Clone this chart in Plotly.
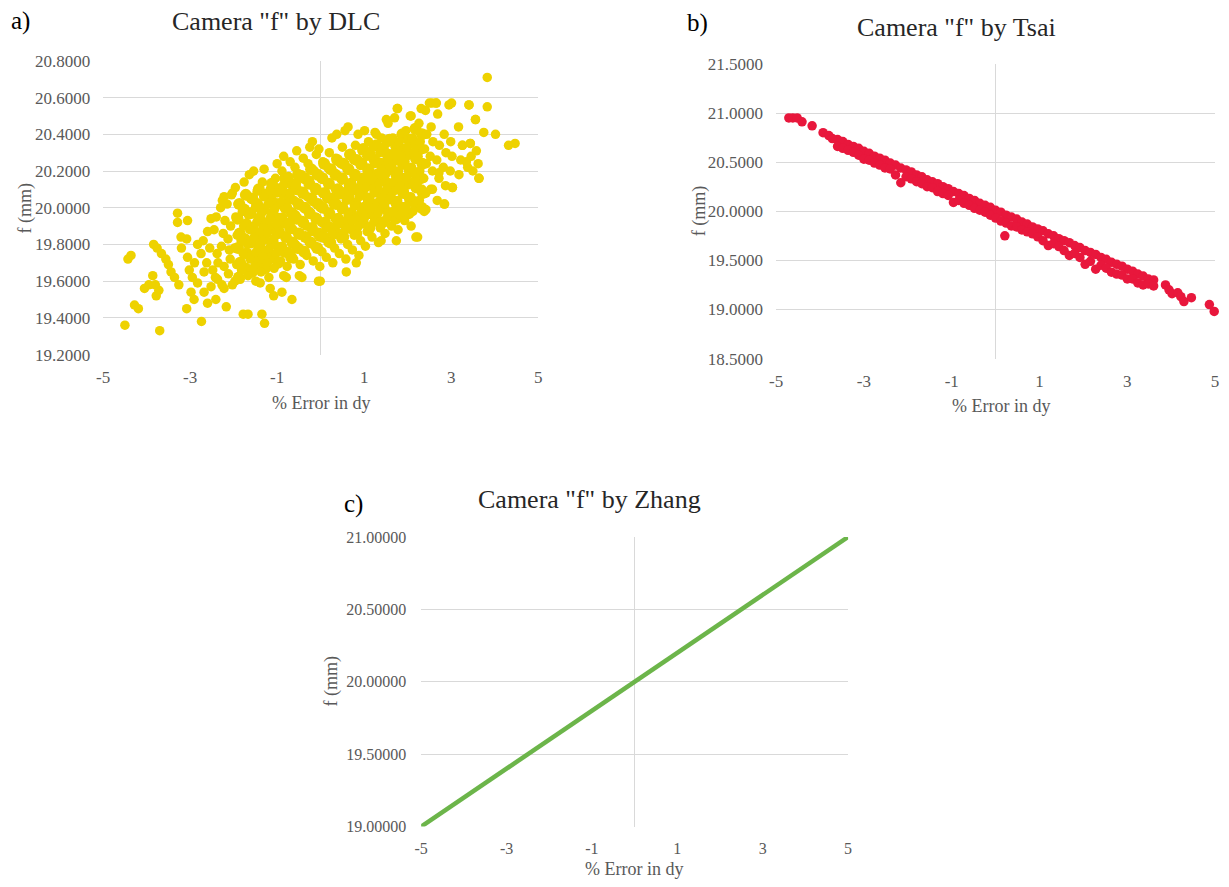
import plotly.graph_objects as go

# ---------------- data ----------------
x_ticks = [-5, -3, -1, 1, 3, 5]

# a) DLC scatter (read from picture)
dlc_x = [
    # left outliers
    -4.50, -3.70, -4.43, -4.36, -4.28, -4.19, -4.05, -3.95, -3.86, -3.78,
    -3.84, -3.76, -3.66, -3.56, -3.50, -3.44, -3.36, -3.26, -3.80, -3.72,
    -3.29, -3.29, -3.06, -3.21, -3.08, -3.20, -3.06, -3.02, -2.98, -3.08,
    -2.91, -2.74, -2.83, -2.68, -2.68, -2.60, -2.41, -2.52, -2.37, -2.22,
    -2.17, -2.03, -1.78, -1.67, -1.35, -1.29, -1.16, -1.08, -0.89, -0.66,
    -0.85, -0.43, -0.05, -1.39, -1.85, -2.83, -2.60, -2.52, -2.30, -2.22,
    -2.03, -2.15, -2.90, -2.75, -2.95, -2.62, -2.55, -2.48, -2.70,
    # core columns
    -2.42, -2.38, -2.45, -2.36, -2.40,
    -2.27, -2.22, -2.28, -2.24, -2.20, -2.26,
    -2.12, -2.08, -2.13, -2.07, -2.10, -2.05,
    -1.97, -1.93, -1.98, -1.92, -1.95, -1.90, -1.96,
    -1.82, -1.78, -1.83, -1.77, -1.80, -1.76, -1.84,
    -1.67, -1.62, -1.68, -1.63, -1.66, -1.61, -1.64,
    -1.52, -1.48, -1.53, -1.47, -1.50, -1.46, -1.54, -1.49,
    -1.37, -1.33, -1.38, -1.32, -1.36, -1.31, -1.34, -1.30,
    -1.22, -1.18, -1.23, -1.17, -1.21, -1.16, -1.19,
    -1.07, -1.03, -1.08, -1.02, -1.06, -1.01, -1.04, -1.00,
    -0.92, -0.88, -0.93, -0.87, -0.91, -0.86, -0.89, -0.85,
    -0.77, -0.73, -0.78, -0.72, -0.76, -0.71, -0.74, -0.70, -0.79,
    -0.62, -0.58, -0.63, -0.57, -0.61, -0.56, -0.59, -0.55,
    -0.47, -0.43, -0.48, -0.42, -0.46, -0.41, -0.44, -0.40, -0.49,
    -0.32, -0.28, -0.33, -0.27, -0.31, -0.26, -0.29, -0.25,
    -0.17, -0.13, -0.18, -0.12, -0.16, -0.11, -0.14, -0.10, -0.19,
    -0.02, 0.03, -0.03, 0.02, -0.01, 0.04, 0.01, 0.05, -0.04,
    0.13, 0.17, 0.12, 0.18, 0.14, 0.19, 0.16, 0.20,
    0.28, 0.32, 0.27, 0.33, 0.29, 0.34, 0.31, 0.35, 0.26,
    0.43, 0.47, 0.42, 0.48, 0.44, 0.49, 0.46, 0.50,
    0.58, 0.62, 0.57, 0.63, 0.59, 0.64, 0.61, 0.65, 0.56,
    0.73, 0.77, 0.72, 0.78, 0.74, 0.79, 0.76, 0.80,
    0.88, 0.92, 0.87, 0.93, 0.89, 0.94, 0.91, 0.95, 0.86,
    1.03, 1.07, 1.02, 1.08, 1.04, 1.09, 1.06, 1.10,
    1.18, 1.22, 1.17, 1.23, 1.19, 1.24, 1.21, 1.25,
    1.33, 1.37, 1.32, 1.38, 1.34, 1.39, 1.36, 1.40,
    1.48, 1.52, 1.47, 1.53, 1.49, 1.54, 1.51, 1.55,
    1.63, 1.67, 1.62, 1.68, 1.64, 1.69, 1.66, 1.70,
    1.78, 1.82, 1.77, 1.83, 1.79, 1.84, 1.81, 1.76,
    1.93, 1.97, 1.92, 1.98, 1.94, 1.99, 1.96,
    2.08, 2.12, 2.07, 2.13, 2.09, 2.14, 2.11, 2.06,
    2.23, 2.27, 2.22, 2.28, 2.24, 2.29, 2.26,
    2.38, 2.42, 2.37, 2.43, 2.39, 2.44, 2.41,
    2.53, 2.57, 2.52, 2.58, 2.54, 2.56,
    2.68, 2.72, 2.67, 2.73, 2.69, 2.66,
    2.85, 2.87, 2.82, 2.88, 2.84,
    3.03, 2.98, 3.02, 2.99, 3.01,
    3.18, 3.22, 3.26, 3.17,
    3.41, 3.44, 3.38, 3.46,
    3.56, 3.64, 3.62, 3.58,
    # right outliers
    3.83, 3.83, 3.75, 4.02, 4.32, 4.47, 3.56, 3.64, 3.41, 2.95,
    2.50, 2.65, 2.31, 1.77, 1.51, 2.08, 0.63, 1.01, 1.28, 0.37,
    2.84, 2.42, 2.19, 1.74, 1.39, 0.82, 0.59, -0.01, 3.03, 3.26,
    3.44, 2.57, 2.33, 2.72, 3.50, 3.35,
]
dlc_y = [
    # left outliers
    19.36, 19.33, 19.72, 19.74, 19.47, 19.45, 19.56, 19.58, 19.63, 19.52,
    19.80, 19.78, 19.75, 19.72, 19.69, 19.65, 19.62, 19.58, 19.58, 19.55,
    19.97, 19.92, 19.93, 19.84, 19.83, 19.78, 19.73, 19.66, 19.54, 19.45,
    19.50, 19.38, 19.59, 19.65, 19.54, 19.48, 19.50, 19.57, 19.61, 19.56,
    19.46, 19.58, 19.42, 19.42, 19.42, 19.37, 19.56, 19.52, 19.54, 19.50,
    19.63, 19.62, 19.60, 19.59, 19.61, 19.80, 19.87, 19.94, 20.00, 20.06,
    20.08, 20.02, 19.70, 19.75, 19.62, 19.70, 19.78, 19.66, 19.82,
    # core columns
    19.62, 19.75, 19.88, 19.70, 19.95,
    19.58, 19.68, 19.79, 19.86, 19.93, 20.04,
    19.64, 19.72, 19.83, 19.90, 19.77, 20.07,
    19.60, 19.69, 19.78, 19.85, 19.95, 20.02, 20.11,
    19.66, 19.75, 19.82, 19.90, 19.98, 20.14, 19.70,
    19.63, 19.72, 19.80, 19.88, 19.96, 20.05, 20.18,
    19.68, 19.76, 19.84, 19.92, 20.00, 20.09, 20.20, 19.60,
    19.65, 19.73, 19.81, 19.89, 19.97, 20.06, 20.14, 20.21,
    19.70, 19.78, 19.86, 19.94, 20.02, 20.10, 19.62,
    19.67, 19.75, 19.83, 19.91, 19.99, 20.08, 20.16, 20.24,
    19.71, 19.79, 19.87, 19.95, 20.03, 20.12, 20.20, 20.28,
    19.68, 19.76, 19.84, 19.92, 20.00, 20.08, 20.17, 20.25, 19.62,
    19.72, 19.80, 19.88, 19.96, 20.04, 20.13, 20.22, 20.31,
    19.69, 19.77, 19.85, 19.93, 20.01, 20.09, 20.18, 20.27, 19.63,
    19.74, 19.82, 19.90, 19.98, 20.06, 20.15, 20.24, 20.33,
    19.71, 19.79, 19.87, 19.95, 20.03, 20.11, 20.20, 20.29, 20.36,
    19.68, 19.76, 19.84, 19.92, 20.00, 20.08, 20.17, 20.25, 20.32,
    19.73, 19.81, 19.89, 19.97, 20.05, 20.13, 20.22, 20.30,
    19.70, 19.78, 19.86, 19.94, 20.02, 20.10, 20.19, 20.27, 20.38,
    19.75, 19.83, 19.91, 19.99, 20.07, 20.15, 20.24, 20.33,
    19.72, 19.80, 19.88, 19.96, 20.04, 20.12, 20.21, 20.29, 20.42,
    19.77, 19.85, 19.93, 20.01, 20.09, 20.17, 20.26, 20.34,
    19.74, 19.82, 19.90, 19.98, 20.06, 20.14, 20.23, 20.31, 20.40,
    19.79, 19.87, 19.95, 20.03, 20.11, 20.19, 20.28, 20.36,
    19.84, 19.92, 20.00, 20.08, 20.16, 20.24, 20.33, 20.41,
    19.81, 19.89, 19.97, 20.05, 20.13, 20.21, 20.30, 20.38,
    19.86, 19.94, 20.02, 20.10, 20.18, 20.26, 20.35, 20.46,
    19.90, 19.98, 20.06, 20.14, 20.22, 20.30, 20.38, 20.49,
    19.88, 19.96, 20.04, 20.12, 20.20, 20.28, 20.36, 20.54,
    19.93, 20.01, 20.09, 20.17, 20.25, 20.33, 20.42,
    19.90, 19.98, 20.06, 20.14, 20.22, 20.30, 20.38, 20.50,
    19.84, 20.04, 20.12, 20.20, 20.28, 20.36, 20.46,
    19.98, 20.08, 20.16, 20.24, 20.32, 20.40, 20.53,
    20.10, 20.20, 20.28, 20.36, 20.44, 20.57,
    20.04, 20.16, 20.26, 20.34, 20.51, 20.57,
    20.02, 20.12, 20.22, 20.30, 20.40,
    20.11, 20.20, 20.28, 20.36, 20.57,
    20.18, 20.26, 20.34, 20.44,
    20.56, 20.35, 20.22, 20.28,
    20.48, 20.16, 20.24, 20.31,
    # right outliers
    20.71, 20.55, 20.41, 20.40, 20.34, 20.35, 20.48, 20.16, 20.56, 20.56,
    20.57, 20.57, 20.54, 20.54, 20.48, 20.50, 20.44, 20.42, 20.40, 20.40,
    20.02, 19.99, 19.84, 19.82, 19.82, 19.70, 19.65, 19.60, 20.11, 20.34,
    20.35, 20.10, 20.10, 20.19, 20.20, 20.25,
]
# dense centre of the DLC cloud (points between the ones above)
dlc_fill_x = [
    -1.88, -1.85, -1.90, -1.86, -1.91, -1.87,
    -1.73, -1.70, -1.75, -1.71, -1.76, -1.72,
    -1.58, -1.55, -1.60, -1.56, -1.61, -1.57,
    -1.43, -1.40, -1.45, -1.41, -1.46, -1.42,
    -1.28, -1.25, -1.30, -1.26, -1.31, -1.27,
    -1.13, -1.10, -1.15, -1.11, -1.16, -1.12,
    -0.98, -0.95, -1.00, -0.96, -1.01, -0.97,
    -0.83, -0.80, -0.85, -0.81, -0.86, -0.82,
    -0.68, -0.65, -0.70, -0.66, -0.71, -0.67,
    -0.53, -0.50, -0.55, -0.51, -0.56, -0.52,
    -0.38, -0.35, -0.40, -0.36, -0.41, -0.37,
    -0.23, -0.20, -0.25, -0.21, -0.26, -0.22,
    -0.08, -0.05, -0.10, -0.06, -0.11, -0.07,
    0.07, 0.10, 0.05, 0.09, 0.04, 0.08,
    0.22, 0.25, 0.20, 0.24, 0.19, 0.23,
    0.37, 0.40, 0.35, 0.39, 0.34, 0.38,
    0.52, 0.55, 0.50, 0.54, 0.49, 0.53,
    0.67, 0.70, 0.65, 0.69, 0.64, 0.68,
    0.82, 0.85, 0.80, 0.84, 0.79, 0.83,
    0.97, 1.00, 0.95, 0.99, 0.94, 0.98,
    1.12, 1.15, 1.10, 1.14, 1.09, 1.13,
    1.27, 1.30, 1.25, 1.29, 1.24, 1.28,
    1.42, 1.45, 1.40, 1.44, 1.39, 1.43,
    1.57, 1.60, 1.55, 1.59, 1.54, 1.58,
    1.72, 1.75, 1.70, 1.74, 1.69, 1.73,
    1.87, 1.90, 1.85, 1.89, 1.84, 1.88,
    2.02, 2.05, 2.00, 2.04, 1.99, 2.03,
    2.17, 2.20, 2.15, 2.19, 2.14, 2.18,
    2.32, 2.35, 2.30, 2.34, 2.29, 2.33,
]
dlc_fill_y = [
    19.62, 19.70, 19.78, 19.86, 19.94, 20.02,
    19.67, 19.75, 19.83, 19.91, 19.99, 20.07,
    19.65, 19.73, 19.81, 19.89, 19.97, 20.05,
    19.70, 19.78, 19.86, 19.94, 20.02, 20.10,
    19.67, 19.75, 19.83, 19.91, 19.99, 20.07,
    19.73, 19.81, 19.89, 19.97, 20.05, 20.13,
    19.70, 19.78, 19.86, 19.94, 20.02, 20.10,
    19.76, 19.84, 19.92, 20.00, 20.08, 20.16,
    19.73, 19.81, 19.89, 19.97, 20.05, 20.13,
    19.78, 19.86, 19.94, 20.02, 20.10, 20.18,
    19.76, 19.84, 19.92, 20.00, 20.08, 20.16,
    19.81, 19.89, 19.97, 20.05, 20.13, 20.21,
    19.78, 19.86, 19.94, 20.02, 20.10, 20.18,
    19.84, 19.92, 20.00, 20.08, 20.16, 20.24,
    19.81, 19.89, 19.97, 20.05, 20.13, 20.21,
    19.86, 19.94, 20.02, 20.10, 20.18, 20.26,
    19.84, 19.92, 20.00, 20.08, 20.16, 20.24,
    19.89, 19.97, 20.05, 20.13, 20.21, 20.29,
    19.86, 19.94, 20.02, 20.10, 20.18, 20.26,
    19.92, 20.00, 20.08, 20.16, 20.24, 20.32,
    19.89, 19.97, 20.05, 20.13, 20.21, 20.29,
    19.94, 20.02, 20.10, 20.18, 20.26, 20.34,
    19.92, 20.00, 20.08, 20.16, 20.24, 20.32,
    19.97, 20.05, 20.13, 20.21, 20.29, 20.37,
    19.94, 20.02, 20.10, 20.18, 20.26, 20.34,
    20.00, 20.08, 20.16, 20.24, 20.32, 20.40,
    19.97, 20.05, 20.13, 20.21, 20.29, 20.37,
    20.03, 20.11, 20.19, 20.27, 20.35, 20.43,
    20.00, 20.08, 20.16, 20.24, 20.32, 20.40,
]

# b) Tsai scatter (read from picture)
tsai_x = [
    -3.60, -3.48, -3.36, -3.24, -3.12, -3.00, -2.88, -2.76, -2.64, -2.52,
    -2.40, -2.28, -2.16, -2.04, -1.92, -1.80, -1.68, -1.56, -1.44, -1.32,
    -1.20, -1.08, -0.96, -0.84, -0.72, -0.60, -0.48, -0.36, -0.24, -0.12,
    0.00, 0.12, 0.24, 0.36, 0.48, 0.60, 0.72, 0.84, 0.96, 1.08,
    1.20, 1.32, 1.44, 1.56, 1.68, 1.80, 1.92, 2.04, 2.16, 2.28,
    2.40, 2.52, 2.64, 2.76, 2.88, 3.00, 3.12, 3.24, 3.36, 3.48,
    3.60,
]
tsai_y_upper = [
    20.73, 20.71, 20.68, 20.66, 20.64, 20.61, 20.59, 20.56, 20.54, 20.52,
    20.49, 20.47, 20.44, 20.42, 20.40, 20.37, 20.35, 20.32, 20.30, 20.28,
    20.25, 20.23, 20.20, 20.18, 20.16, 20.13, 20.11, 20.08, 20.06, 20.04,
    20.01, 19.99, 19.96, 19.94, 19.92, 19.89, 19.87, 19.84, 19.82, 19.80,
    19.77, 19.75, 19.72, 19.70, 19.68, 19.65, 19.63, 19.60, 19.58, 19.56,
    19.53, 19.51, 19.48, 19.46, 19.44, 19.41, 19.39, 19.36, 19.34, 19.31,
    19.30,
]
tsai_y_lower = [
    20.66, 20.64, 20.62, 20.60, 20.57, 20.53, 20.52, 20.49, 20.47, 20.44,
    20.43, 20.37, 20.29, 20.35, 20.33, 20.30, 20.28, 20.25, 20.24, 20.20,
    20.18, 20.16, 20.09, 20.11, 20.08, 20.06, 20.03, 20.01, 19.99, 19.96,
    19.93, 19.90, 19.88, 19.85, 19.84, 19.81, 19.79, 19.77, 19.74, 19.70,
    19.65, 19.67, 19.64, 19.60, 19.55, 19.57, 19.53, 19.46, 19.49, 19.41,
    19.45, 19.42, 19.38, 19.36, 19.35, 19.31, 19.31, 19.27, 19.25, 19.26,
    19.24,
]
tsai_out_x = [-4.71, -4.62, -4.52, -4.41, -4.18, -3.93, -3.80, -3.72, 0.21,
              3.87, 3.95, 4.02, 4.15, 4.22, 4.29, 4.46, 4.87, 4.98]
tsai_out_y = [20.95, 20.95, 20.95, 20.91, 20.87, 20.80, 20.77, 20.74, 19.75,
              19.25, 19.20, 19.16, 19.17, 19.13, 19.08, 19.12, 19.05, 18.98]

# c) Zhang line
zhang_x = [-5, -4, -3, -2, -1, 0, 1, 2, 3, 4, 5]
zhang_y = [19.0, 19.2, 19.4, 19.6, 19.8, 20.0, 20.2, 20.4, 20.6, 20.8, 21.0]

# ---------------- figure ----------------
PAGE_W, PAGE_H = 1229, 887
BODY = 8                      # default page body margin
W, H = PAGE_W - 2 * BODY, PAGE_H - 2 * BODY
SERIF = "Liberation Serif, Times New Roman, serif"
GRID = "#d9d9d9"
LABEL = "#595959"


def clamp(v):
    return max(0.0, min(1.0, v))


def fx(t):                    # target screenshot px -> paper fraction (x)
    p = (t - 5.9) / 0.991
    return clamp((p - BODY) / W)


def fy(t):                    # target screenshot px -> paper fraction (y)
    p = (t - 8.4) / 0.976
    return clamp(1 - (p - BODY) / H)


fig = go.Figure()
fig.add_trace(go.Scatter(x=dlc_fill_x, y=dlc_fill_y, mode="markers",
                         marker=dict(size=12, color="#EED200", line=dict(width=0)),
                         xaxis="x", yaxis="y", showlegend=False))
fig.add_trace(go.Scatter(x=dlc_x, y=dlc_y, mode="markers",
                         marker=dict(size=9.5, color="#EED200", line=dict(width=0)),
                         xaxis="x", yaxis="y", showlegend=False))
fig.add_trace(go.Scatter(x=tsai_x + tsai_x + tsai_out_x,
                         y=tsai_y_upper + tsai_y_lower + tsai_out_y, mode="markers",
                         marker=dict(size=9.5, color="#E8173C", line=dict(width=0)),
                         xaxis="x2", yaxis="y2", showlegend=False, cliponaxis=False))
fig.add_trace(go.Scatter(x=zhang_x, y=zhang_y, mode="lines",
                         line=dict(color="#6CB54A", width=4.5),
                         xaxis="x3", yaxis="y3", showlegend=False))


def xax(left, right, anchor, size):
    return dict(domain=[fx(left), fx(right)], anchor=anchor, range=[-5, 5],
                tickvals=x_ticks, ticktext=[str(v) for v in x_ticks],
                showgrid=False, zeroline=True, zerolinecolor=GRID, zerolinewidth=1,
                showline=False, ticks="", ticklabelstandoff=10,
                tickfont=dict(family=SERIF, size=size, color=LABEL), fixedrange=True)


def yax(top, bottom, anchor, rng, dtick, fmt, size, standoff):
    return dict(domain=[fy(bottom), fy(top)], anchor=anchor, range=rng, dtick=dtick,
                tick0=rng[0], tickformat=fmt, showgrid=True, gridcolor=GRID,
                gridwidth=1, zeroline=False, showline=False, ticks="",
                tickfont=dict(family=SERIF, size=size, color=LABEL),
                ticklabelstandoff=standoff, fixedrange=True)


fig.update_layout(
    width=W, height=H, autosize=False,
    margin=dict(l=0, r=0, t=0, b=0),
    paper_bgcolor="white", plot_bgcolor="white",
    xaxis=xax(102, 537, "y", 17),
    yaxis=yax(60, 353, "x", [19.2, 20.8], 0.2, ".4f", 17, 12),
    xaxis2=xax(775, 1214, "y2", 17),
    yaxis2=yax(63, 357, "x2", [18.5, 21.5], 0.5, ".4f", 17, 12),
    xaxis3=xax(420, 847, "y3", 16),
    yaxis3=yax(535, 824, "x3", [19.0, 21.0], 0.5, ".5f", 16, 14),
)

ann = []


def text(x, y, s, size, color, angle=0):
    ann.append(dict(x=fx(x), y=fy(y), xref="paper", yref="paper", text=s,
                    showarrow=False, xanchor="center", yanchor="middle",
                    textangle=angle, font=dict(family=SERIF, size=size, color=color)))


# panel letters
text(19, 20, "a)", 25, "#000000")
text(696, 22, "b)", 25, "#000000")
text(352, 502, "c)", 25, "#000000")
# chart titles
text(275, 21, 'Camera "f" by DLC', 26, "#262626")
text(955, 27, 'Camera "f" by Tsai', 26, "#262626")
text(588, 498, 'Camera "f" by Zhang', 26, "#262626")
# axis titles
text(320, 401, "% Error in dy", 18, LABEL)
text(1000, 404, "% Error in dy", 18, LABEL)
text(633, 872, "% Error in dy", 18, LABEL)
text(24, 207, "f (mm)", 18, LABEL, -90)
text(698, 210, "f (mm)", 18, LABEL, -90)
text(330, 679, "f (mm)", 18, LABEL, -90)

fig.update_layout(annotations=ann)
fig.write_html("out.html")
